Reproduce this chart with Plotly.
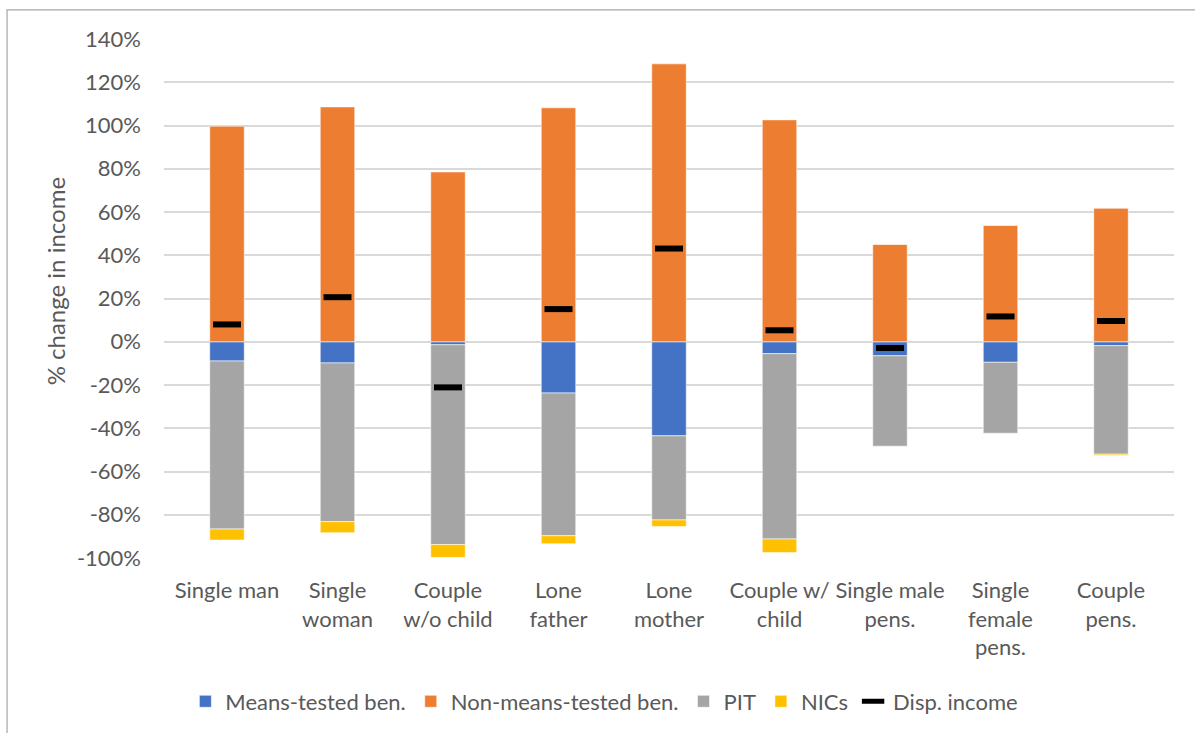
import plotly.graph_objects as go

categories = ["Single man", "Single<br>woman", "Couple<br>w/o child", "Lone<br>father",
              "Lone<br>mother", "Couple w/<br>child", "Single male<br>pens.",
              "Single<br>female<br>pens.", "Couple<br>pens."]

means_tested = [-0.089, -0.098, -0.014, -0.237, -0.435, -0.055, -0.065, -0.095, -0.018]
non_means_tested = [0.997, 1.086, 0.785, 1.082, 1.285, 1.026, 0.451, 0.539, 0.617]
pit = [-0.777, -0.734, -0.924, -0.660, -0.389, -0.857, -0.418, -0.328, -0.502]
nics = [-0.051, -0.051, -0.059, -0.037, -0.030, -0.063, 0.0, 0.0, -0.006]
disp_income = [0.080, 0.206, -0.211, 0.151, 0.431, 0.053, -0.029, 0.117, 0.096]

tick_vals = [-1.0, -0.8, -0.6, -0.4, -0.2, 0.0, 0.2, 0.4, 0.6, 0.8, 1.0, 1.2, 1.4]
tick_text = ["-100%", "-80%", "-60%", "-40%", "-20%", "0%", "20%", "40%", "60%",
             "80%", "100%", "120%", "140%"]

FONT = "Lato, 'Liberation Sans', sans-serif"
TEXT = "#595959"
SIZE = 22
edge = dict(color="rgba(255,255,255,0.7)", width=0.8)

fig = go.Figure()
fig.add_trace(go.Bar(name="Means-tested ben.", x=categories, y=means_tested,
                     marker=dict(color="#4472C4", line=edge)))
fig.add_trace(go.Bar(name="Non-means-tested ben.", x=categories, y=non_means_tested,
                     marker=dict(color="#ED7D31", line=edge)))
fig.add_trace(go.Bar(name="PIT", x=categories, y=pit,
                     marker=dict(color="#A5A5A5", line=edge)))
fig.add_trace(go.Bar(name="NICs", x=categories, y=nics,
                     marker=dict(color="#FFC000", line=edge)))
fig.add_trace(go.Scatter(name="Disp. income", x=categories, y=disp_income, mode="markers",
                         marker=dict(symbol="line-ew", size=20, color="black",
                                     line=dict(color="black", width=6))))

fig.update_layout(
    width=1195, height=733,
    margin=dict(l=164, r=21, t=39, b=174),
    barmode="relative", bargap=0.688,
    plot_bgcolor="white", paper_bgcolor="white",
    font=dict(family=FONT, size=SIZE, color=TEXT),
    showlegend=True,
    legend=dict(orientation="h", x=0.436, xanchor="center", y=-0.274, yanchor="middle",
                font=dict(family=FONT, size=SIZE, color=TEXT), itemwidth=30,
                traceorder="normal"),
    xaxis=dict(showgrid=False, showline=False, ticks="", ticklabelstandoff=17,
               tickfont=dict(size=SIZE, color=TEXT)),
    yaxis=dict(range=[-1.0, 1.4], tickvals=tick_vals, ticktext=tick_text,
               showgrid=True, gridcolor="#D9D9D9", gridwidth=1.5,
               zeroline=False, showline=False, ticks="", ticklabelstandoff=22,
               tickfont=dict(size=SIZE, color=TEXT)),
    shapes=[dict(type="rect", xref="paper", yref="paper",
                 x0=-0.1554, x1=1.06, y0=-0.45, y1=1.0563,
                 line=dict(color="#A6A6A6", width=1.2), layer="below")],
    annotations=[dict(text="% change in income", xref="paper", yref="paper",
                      x=-0.108, y=0.533, textangle=-90, showarrow=False,
                      font=dict(family=FONT, size=24, color=TEXT),
                      xanchor="center", yanchor="middle")],
)

fig.write_html("out.html")
